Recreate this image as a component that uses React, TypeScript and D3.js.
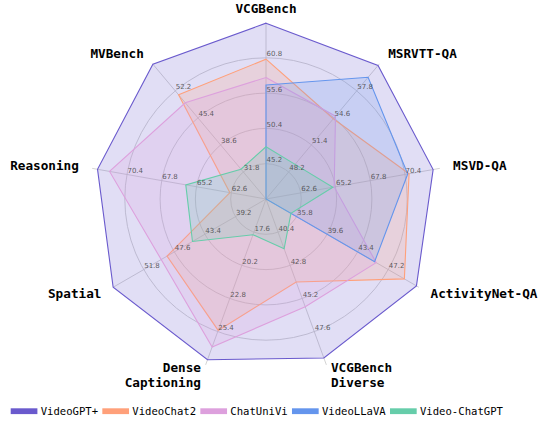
import React from 'react';
import * as d3 from 'd3';

// axes go clockwise from the top
const categories = ['VCGBench', 'MSRVTT-QA', 'MSVD-QA', 'ActivityNet-QA', 'VCGBench\nDiverse', 'Dense\nCaptioning', 'Spatial', 'Reasoning', 'MVBench'];
const axisMin = [40, 45, 60, 32, 38, 15, 35, 60, 25];
const axisMax = [66, 61, 73, 51, 50, 28, 56, 73, 59];
const tickLabels = [
  ['45.2', '50.4', '55.6', '60.8'],
  ['48.2', '51.4', '54.6', '57.8'],
  ['62.6', '65.2', '67.8', '70.4'],
  ['35.8', '39.6', '43.4', '47.2'],
  ['40.4', '42.8', '45.2', '47.6'],
  ['17.6', '20.2', '22.8', '25.4'],
  ['39.2', '43.4', '47.6', '51.8'],
  ['62.6', '65.2', '67.8', '70.4'],
  ['31.8', '38.6', '45.4', '52.2'],
];

const modelNames = ['VideoGPT+', 'VideoChat2', 'ChatUniVi', 'VideoLLaVA', 'Video-ChatGPT'];
const modelColors = ['#6a5acd', '#ffa07a', '#dda0dd', '#6495ed', '#66cdaa'];

const videoGPTPlus = [65.9, 60.8, 72.5, 50.7, 49.5, 27.6, 56.0, 72.6, 58.9];
const videoChat2 = [60.6, 54.5, 70.7, 49.2, 44.0, 25.3, 48.6, 62.7, 51.2];
const chatUniVi = [57.9, 54.8, 65.1, 45.7, 45.8, 26.6, 49.4, 71.7, 49.2];
const videoLLaVA = [56.8, 59.4, 70.6, 45.5, null, null, null, null, null];
const videoChatGPT = [47.7, 49.1, 65.0, 35.1, 41.6, 17.8, 45.1, 66.0, 32.5];

const seriesValues = [videoGPTPlus, videoChat2, chatUniVi, videoLLaVA, videoChatGPT];

const W = 539, H = 421;
const cx = 266, cy = 199, R = 176.5;
const labelR = 190;
const rings = [0.2, 0.4, 0.6, 0.8];

export default function App() {
  const n = categories.length;
  const angle = d3.scaleLinear().domain([0, n]).range([0, 2 * Math.PI]);
  const radial = categories.map((_, i) =>
    d3.scaleLinear().domain([axisMin[i], axisMax[i]]).range([0, R]).clamp(true));

  const line = d3.lineRadial<number | null>()
    .angle((_, i) => angle(i))
    .radius((d, i) => (d == null ? 0 : radial[i](d)))
    .curve(d3.curveLinearClosed);

  const pt = (i: number, r: number) => {
    const a = angle(i);
    return [cx + r * Math.sin(a), cy - r * Math.cos(a)];
  };

  // legend layout
  const legendFs = 10.6;
  const charW = legendFs * 0.602;
  let lx = 10.7;
  const legendItems = modelNames.map((name, i) => {
    const x = lx;
    lx += 30 + name.length * charW + 4.2;
    return { name, color: modelColors[i], x };
  });

  return (
    <svg width={W} height={H} style={{ position: 'absolute', left: 0, top: 0, background: '#fff' }}>
      <g transform={`translate(${cx},${cy})`}>
        {rings.map(f => (
          <circle key={f} r={R * f} fill="none" stroke="#c8c8c8" strokeWidth={0.8} />
        ))}
      </g>
      {categories.map((_, i) => {
        const [x, y] = pt(i, R);
        return <line key={i} x1={cx} y1={cy} x2={x} y2={y} stroke="#c8c8c8" strokeWidth={0.8} />;
      })}
      <g transform={`translate(${cx},${cy})`}>
        {seriesValues.map((vals, s) => (
          <path key={s} d={line(vals) || ''} fill={modelColors[s]} fillOpacity={0.2}
            stroke={modelColors[s]} strokeWidth={1.1} strokeLinejoin="miter" />
        ))}
      </g>
      {tickLabels.map((ticks, i) => ticks.map(t => {
        const [x, y] = pt(i, radial[i](+t));
        return (
          <text key={i + '-' + t} x={x + 0.5} y={y - 1.5} fontFamily="DejaVu Sans" fontSize={7}
            fill="#444" fillOpacity={0.85}>{t}</text>
        );
      }))}
      {categories.map((c, i) => {
        const [x, y] = pt(i, labelR);
        const s = Math.sin(angle(i));
        const anchor = s > 0.01 ? 'start' : s < -0.01 ? 'end' : 'middle';
        const lines = c.split('\n');
        const lh = 15;
        const y0 = y - ((lines.length - 1) * lh) / 2 - 2 * (lines.length - 1);
        return (
          <text key={c} x={x} y={y0} textAnchor={anchor} fontFamily="DejaVu Sans Mono"
            fontWeight="bold" fontSize={12.7} fill="#000">
            {lines.map((l, k) => (
              <tspan key={k} x={x} y={y0 + k * lh} dy="0.35em">{l}</tspan>
            ))}
          </text>
        );
      })}
      {legendItems.map(it => (
        <g key={it.name}>
          <rect x={it.x} y={408.3} width={26.7} height={5.8} fill={it.color} />
          <text x={it.x + 30} y={414.5} fontFamily="DejaVu Sans Mono" fontSize={legendFs} fill="#000">{it.name}</text>
        </g>
      ))}
    </svg>
  );
}
